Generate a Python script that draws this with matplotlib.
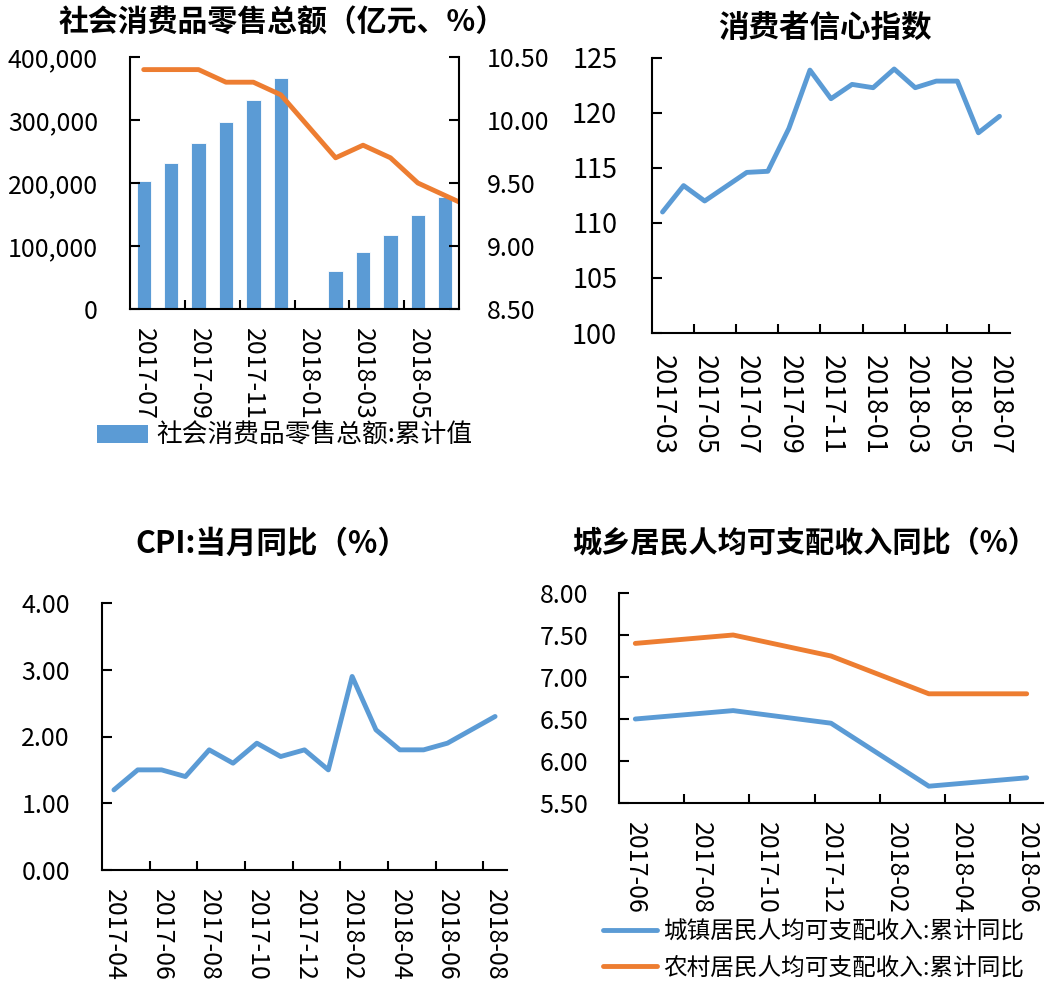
import numpy as np
import matplotlib
matplotlib.use('Agg')
import matplotlib.pyplot as plt
from matplotlib.patches import Patch
from matplotlib.lines import Line2D

plt.rcParams['font.family'] = ['Noto Sans CJK SC', 'DejaVu Sans']

BLUE = '#5B9BD5'
ORANGE = '#ED7D31'

# 社会消费品零售总额 (bars: 亿元, line: %)
retail_months = ['2017-07', '2017-08', '2017-09', '2017-10', '2017-11', '2017-12',
                 '2018-01', '2018-02', '2018-03', '2018-04', '2018-05', '2018-06']
retail_total = [203330, 231700, 263300, 297600, 332500, 366300,
                np.nan, 61100, 90300, 117700, 149300, 178400]
# growth line runs one month past the last bar and gets clipped at the axis edge
retail_yoy = [10.4, 10.4, 10.4, 10.3, 10.3, 10.2, np.nan, 9.7, 9.8, 9.7, 9.5, 9.4, 9.3]

# 消费者信心指数
cc_months = ['2017-03', '2017-04', '2017-05', '2017-06', '2017-07', '2017-08', '2017-09',
             '2017-10', '2017-11', '2017-12', '2018-01', '2018-02', '2018-03', '2018-04',
             '2018-05', '2018-06', '2018-07']
cc_index = [111.0, 113.4, 112.0, 113.3, 114.6, 114.7, 118.6, 123.9, 121.3, 122.6,
            122.3, 124.0, 122.3, 122.9, 122.9, 118.2, 119.7]

# CPI 当月同比
cpi_months = ['2017-04', '2017-05', '2017-06', '2017-07', '2017-08', '2017-09', '2017-10',
              '2017-11', '2017-12', '2018-01', '2018-02', '2018-03', '2018-04', '2018-05',
              '2018-06', '2018-07', '2018-08']
cpi_yoy = [1.2, 1.5, 1.5, 1.4, 1.8, 1.6, 1.9, 1.7, 1.8, 1.5, 2.9, 2.1, 1.8, 1.8, 1.9, 2.1, 2.3]

# 城乡居民人均可支配收入同比
inc_months = ['2017-06', '2017-07', '2017-08', '2017-09', '2017-10', '2017-11', '2017-12',
              '2018-01', '2018-02', '2018-03', '2018-04', '2018-05', '2018-06']
inc_points = ['2017-06', '2017-09', '2017-12', '2018-03', '2018-06']
urban_yoy = [6.5, 6.6, 6.45, 5.7, 5.8]
rural_yoy = [7.4, 7.5, 7.25, 6.8, 6.8]

W, H = 1046, 982
fig = plt.figure(figsize=(W / 100, H / 100), dpi=100)


def px_axes(left, top, right, bottom):
    return fig.add_axes([left / W, 1 - bottom / H, (right - left) / W, (bottom - top) / H])


def style(ax, months, ypad=23, xpad=14, size=18):
    n = len(months)
    ax.set_xlim(-0.5, n - 0.5)
    ax.set_xticks(range(0, n, 2))
    ax.set_xticklabels(months[::2], rotation=270)
    ax.set_xticks([i - 0.5 for i in range(2, n, 2)], minor=True)
    ax.tick_params(axis='x', which='major', length=0, pad=xpad, labelsize=size)
    ax.tick_params(axis='x', which='minor', length=6.5, width=1.5, direction='in')
    ax.tick_params(axis='y', length=7.2, width=1.5, direction='in', pad=ypad, labelsize=size)
    for s in ['top', 'right']:
        ax.spines[s].set_visible(False)
    for s in ['left', 'bottom']:
        ax.spines[s].set_linewidth(1.5)


line_kw = dict(lw=3.5, solid_capstyle='round', solid_joinstyle='round')

# ---- chart 1 ----
ax1 = px_axes(130, 57, 459, 309)
x1 = np.arange(len(retail_months))
ax1.bar(x1, retail_total, width=0.52, color=BLUE, edgecolor='white', linewidth=0.6)
ax1.set_ylim(0, 400000)
ax1.set_yticks(range(0, 400001, 100000))
ax1.set_yticklabels([f'{v:,}' for v in range(0, 400001, 100000)])
style(ax1, retail_months, ypad=23, xpad=13.5)
ax1b = ax1.twinx()
yoy = np.array(retail_yoy)
xl = np.arange(len(yoy))
ok = ~np.isnan(yoy)
ax1b.plot(xl[ok], yoy[ok], color=ORANGE, **line_kw)
ax1b.set_ylim(8.5, 10.5)
ax1b.set_yticks(np.arange(8.5, 10.51, 0.5))
ax1b.set_yticklabels([f'{v:.2f}' for v in np.arange(8.5, 10.51, 0.5)])
ax1b.set_xlim(-0.5, len(retail_months) - 0.5)
ax1b.tick_params(axis='y', length=7.2, width=1.5, direction='in', pad=20, labelsize=18)
for s in ['top', 'left', 'bottom']:
    ax1b.spines[s].set_visible(False)
ax1b.spines['right'].set_linewidth(1.5)
fig.text(282 / W, 1 - 23 / H, '社会消费品零售总额（亿元、%）', ha='center', va='center',
         fontsize=21.5, fontweight='bold')
fig.legend(handles=[Patch(facecolor=BLUE, label='社会消费品零售总额:累计值')],
           loc='center left', bbox_to_anchor=(97 / W, 1 - 436 / H), frameon=False,
           fontsize=18.5, handlelength=2.0, handleheight=0.65, handletextpad=0.3,
           borderpad=0, borderaxespad=0)

# ---- chart 2 ----
ax2 = px_axes(652, 58, 1010, 333)
ax2.plot(range(len(cc_months)), cc_index, color=BLUE, **line_kw)
ax2.set_ylim(100, 125)
ax2.set_yticks(range(100, 126, 5))
style(ax2, cc_months, ypad=25, xpad=15.5, size=19.5)
fig.text(825 / W, 1 - 28 / H, '消费者信心指数', ha='center', va='center',
         fontsize=22, fontweight='bold')

# ---- chart 3 ----
ax3 = px_axes(102, 603, 507, 870)
ax3.plot(range(len(cpi_months)), cpi_yoy, color=BLUE, **line_kw)
ax3.set_ylim(0, 4)
ax3.set_yticks(range(0, 5))
ax3.set_yticklabels([f'{v:.2f}' for v in range(0, 5)])
style(ax3, cpi_months, ypad=23, xpad=14)
fig.text(272 / W, 1 - 544 / H, 'CPI:当月同比（%）', ha='center', va='center',
         fontsize=22, fontweight='bold')

# ---- chart 4 ----
ax4 = px_axes(619, 593, 1043, 803)
xi = [inc_months.index(m) for m in inc_points]
ax4.plot(xi, urban_yoy, color=BLUE, **line_kw)
ax4.plot(xi, rural_yoy, color=ORANGE, **line_kw)
ax4.set_ylim(5.5, 8.0)
ax4.set_yticks(np.arange(5.5, 8.01, 0.5))
ax4.set_yticklabels([f'{v:.2f}' for v in np.arange(5.5, 8.01, 0.5)])
style(ax4, inc_months, ypad=22, xpad=13.5)
fig.text(805 / W, 1 - 543 / H, '城乡居民人均可支配收入同比（%）', ha='center', va='center',
         fontsize=21, fontweight='bold')
fig.legend(handles=[Line2D([], [], color=BLUE, label='城镇居民人均可支配收入:累计同比', **line_kw),
                    Line2D([], [], color=ORANGE, label='农村居民人均可支配收入:累计同比', **line_kw)],
           loc='center left', bbox_to_anchor=(603 / W, 1 - 950 / H), frameon=False,
           fontsize=17, handlelength=2.3, handletextpad=0.25, labelspacing=0.55,
           borderpad=0, borderaxespad=0)

fig.savefig('out.png', dpi=100)
